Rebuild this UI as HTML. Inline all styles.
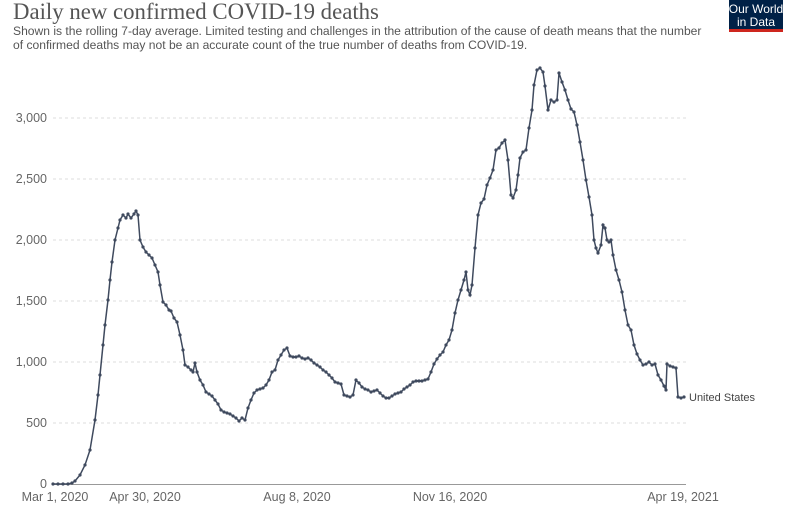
<!DOCTYPE html>
<html><head><meta charset="utf-8"><style>
body{margin:0;background:#fff;width:800px;height:509px;overflow:hidden;font-family:"Liberation Sans",sans-serif}
</style></head><body>
<svg width="800" height="509" xmlns="http://www.w3.org/2000/svg" font-family="Liberation Sans, sans-serif">
<text x="13" y="19" font-family="Liberation Serif, serif" font-size="22.8" fill="#555">Daily new confirmed COVID-19 deaths</text>
<text x="13" y="35" font-size="12.1" fill="#555">Shown is the rolling 7-day average. Limited testing and challenges in the attribution of the cause of death means that the number</text>
<text x="13" y="49" font-size="12.1" fill="#555">of confirmed deaths may not be an accurate count of the true number of deaths from COVID-19.</text>
<rect x="729" y="0" width="54" height="32" fill="#002147"/>
<rect x="729" y="29" width="54" height="3" fill="#ce261e"/>
<text x="756" y="13" font-size="12" fill="#fff" text-anchor="middle">Our World</text>
<text x="756" y="26" font-size="12" fill="#fff" text-anchor="middle">in Data</text>
<g stroke="#ddd" stroke-dasharray="3,3">
<line x1="53" x2="686" y1="423" y2="423"/><line x1="53" x2="686" y1="362" y2="362"/>
<line x1="53" x2="686" y1="301" y2="301"/><line x1="53" x2="686" y1="240" y2="240"/>
<line x1="53" x2="686" y1="179" y2="179"/><line x1="53" x2="686" y1="118" y2="118"/>
</g>
<line x1="53" x2="686" y1="484.5" y2="484.5" stroke="#999"/>
<g font-size="12.5" fill="#666" text-anchor="end">
<text x="47" y="488">0</text><text x="47" y="427">500</text><text x="47" y="366">1,000</text>
<text x="47" y="305">1,500</text><text x="47" y="244">2,000</text><text x="47" y="183">2,500</text><text x="47" y="122">3,000</text>
</g>
<g font-size="12.5" fill="#666" text-anchor="middle">
<text x="55" y="501">Mar 1, 2020</text><text x="145" y="501">Apr 30, 2020</text>
<text x="297" y="501">Aug 8, 2020</text><text x="450" y="501">Nov 16, 2020</text><text x="683" y="501">Apr 19, 2021</text>
</g>
<polyline id="ln" fill="none" stroke="#3f4a5e" stroke-width="1.5" points=""/>
<g id="dots" fill="#3f4a5e"></g>
<text x="689" y="401" font-size="11" fill="#444">United States</text>
</svg>
<script>
var p=[53,484,58,484,63,484,68,484,72,483,75,481,80,475,85,465,90,450,95,420,98,395,100,375,103,345,105,325,108,300,110,280,112,262,115,240,118,228,120,220,123,215,126,218,128,214,131,218,134,214,136,211,138,215,140,240,143,247,146,252,149,255,152,258,155,265,158,272,160,285,163,302,166,305,169,310,171,311,174,318,177,322,180,335,183,350,185,365,188,367,191,370,193,372,195,363,197,372,200,380,203,385,206,392,209,394,212,396,215,400,218,404,221,410,224,412,227,413,230,414,233,416,236,418,239,421,242,418,245,420,248,408,251,400,254,393,257,390,260,389,263,388,266,385,269,380,272,372,275,370,278,360,281,355,284,350,287,348,290,356,293,357,296,357,299,356,302,358,305,359,308,358,311,360,314,363,317,365,320,367,323,370,326,372,329,375,332,378,335,382,338,383,341,384,344,395,347,396,350,397,353,395,356,380,359,383,362,387,365,389,368,390,371,392,374,391,377,390,380,393,383,396,386,398,389,398,392,396,395,394,398,393,401,392,404,389,407,387,410,385,413,382,416,381,419,381,422,381,425,380,428,379,431,372,434,364,437,359,440,355,443,352,446,345,449,340,452,330,455,313,458,300,461,290,464,280,466,272,468,290,470,295,472,285,475,248,478,215,481,203,484,199,487,185,490,178,493,170,496,150,499,148,502,143,505,140,508,160,511,195,513,198,516,190,518,175,520,158,523,152,526,150,529,128,532,110,534,85,537,70,540,68,543,72,545,86,548,110,551,100,554,102,557,100,559,73,562,82,565,90,568,100,571,109,574,112,577,125,580,142,583,160,586,180,589,197,592,215,594,240,596,248,598,253,601,245,603,225,605,228,607,240,609,242,611,240,613,255,616,270,619,280,622,292,625,310,628,325,631,330,634,345,637,354,640,360,643,365,646,364,649,362,652,365,655,364,658,375,661,380,664,386,666,390,667,364,670,366,673,367,676,368,678,397,681,398,684,397];
var s="",d="";
for(var i=0;i<p.length;i+=2){s+=p[i]+","+p[i+1]+" ";d+='<circle cx="'+p[i]+'" cy="'+p[i+1]+'" r="1.6"/>';}
document.getElementById("ln").setAttribute("points",s);
document.getElementById("dots").innerHTML=d;
</script>
</body></html>
